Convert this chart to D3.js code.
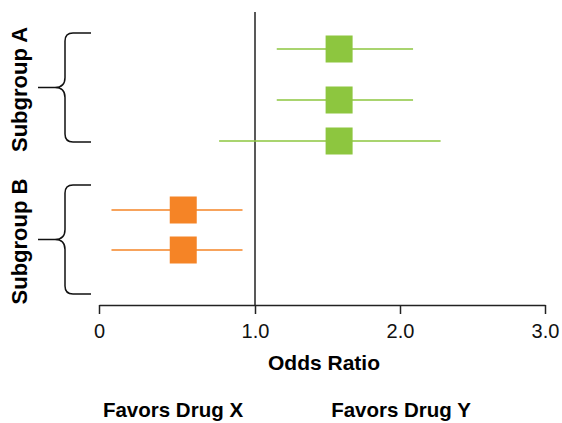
<!DOCTYPE html>
<html>
<head>
<meta charset="utf-8">
<script src="https://cdn.jsdelivr.net/npm/d3@7"></script>
<style>
  body { margin: 0; background: #fff; }
  svg text { font-family: "Liberation Sans", Arial, Helvetica, sans-serif; }
</style>
</head>
<body>
<div id="chart"></div>
<script>
// data
var rows = ["A1", "A2", "A3", "B1", "B2"];
var groups = ["A", "A", "A", "B", "B"];
var oddsRatio = [1.58, 1.58, 1.58, 0.54, 0.54];
var lower = [1.15, 1.15, 0.77, 0.08, 0.08];
var upper = [2.09, 2.09, 2.28, 0.92, 0.92];
var subgroups = ["A", "B"];
var subgroupLabels = ["Subgroup A", "Subgroup B"];
var tickValues = [0, 1, 2, 3];
var tickLabels = ["0", "1.0", "2.0", "3.0"];
var favorLabels = ["Favors Drug X", "Favors Drug Y"];

var width = 562, height = 423;
var colors = { A: "#8dc63f", B: "#f58426" };

var svg = d3.select("#chart").append("svg")
  .attr("width", width)
  .attr("height", height);

// x scale (the original axis is not evenly spaced)
var x = d3.scaleLinear().domain([0, 1, 3]).range([99, 255, 545]);
// row positions
var y = d3.scaleOrdinal().domain(rows).range([49, 100, 141, 210, 250]);
// brace spans for each subgroup
var braceTop = d3.scaleOrdinal().domain(subgroups).range([33, 185]);
var braceBottom = d3.scaleOrdinal().domain(subgroups).range([142, 294]);

var axisY = 305;

// axis
var axis = d3.axisBottom(x)
  .tickValues(tickValues)
  .tickFormat(function(d, i) { return tickLabels[i]; })
  .tickSize(9)
  .tickSizeOuter(0)
  .tickPadding(10);

var gx = svg.append("g")
  .attr("transform", "translate(0," + axisY + ")")
  .call(axis);
gx.select(".domain").attr("stroke", "#222").attr("stroke-width", 1.5);
gx.selectAll(".tick line").attr("stroke", "#222").attr("stroke-width", 1.5);
gx.selectAll(".tick text")
  .attr("fill", "#111")
  .style("font-size", "20px");

// reference line at 1.0
svg.append("line")
  .attr("x1", x(1)).attr("x2", x(1))
  .attr("y1", 12).attr("y2", axisY)
  .attr("stroke", "#222")
  .attr("stroke-width", 1.5);

// confidence intervals
svg.selectAll("line.ci")
  .data(rows)
  .enter().append("line")
  .attr("class", "ci")
  .attr("x1", function(d, i) { return x(lower[i]); })
  .attr("x2", function(d, i) { return x(upper[i]); })
  .attr("y1", function(d) { return y(d); })
  .attr("y2", function(d) { return y(d); })
  .attr("stroke", function(d, i) { return colors[groups[i]]; })
  .attr("stroke-width", 1.5);

// point estimates
var sq = 27;
svg.selectAll("rect.or")
  .data(rows)
  .enter().append("rect")
  .attr("class", "or")
  .attr("x", function(d, i) { return x(oddsRatio[i]) - sq / 2; })
  .attr("y", function(d) { return y(d) - sq / 2; })
  .attr("width", sq)
  .attr("height", sq)
  .attr("fill", function(d, i) { return colors[groups[i]]; });

// braces
function brace(y0, y1) {
  var ym = (y0 + y1) / 2;
  var xe = 91, xv = 65, xt = 38, r = 8;
  return "M" + xe + "," + y0 +
    " H" + (xv + r) + " Q" + xv + "," + y0 + " " + xv + "," + (y0 + r) +
    " V" + (ym - 10) + " Q" + xv + "," + ym + " " + (xv - 10) + "," + ym +
    " H" + xt +
    " M" + (xv - 10) + "," + ym + " Q" + xv + "," + ym + " " + xv + "," + (ym + 10) +
    " V" + (y1 - r) + " Q" + xv + "," + y1 + " " + (xv + r) + "," + y1 +
    " H" + xe;
}

svg.selectAll("path.brace")
  .data(subgroups)
  .enter().append("path")
  .attr("class", "brace")
  .attr("d", function(d) { return brace(braceTop(d), braceBottom(d)); })
  .attr("fill", "none")
  .attr("stroke", "#111")
  .attr("stroke-width", 1.5);

svg.selectAll("text.group")
  .data(subgroups)
  .enter().append("text")
  .attr("class", "group")
  .attr("transform", function(d) {
    var ym = (braceTop(d) + braceBottom(d)) / 2 + 2;
    return "translate(27," + ym + ") rotate(-90)";
  })
  .attr("text-anchor", "middle")
  .style("font-size", "22px")
  .style("font-weight", "bold")
  .attr("fill", "#000")
  .text(function(d, i) { return subgroupLabels[i]; });

// axis title
svg.append("text")
  .attr("x", 324)
  .attr("y", 370)
  .attr("text-anchor", "middle")
  .style("font-size", "21px")
  .style("font-weight", "bold")
  .attr("fill", "#000")
  .text("Odds Ratio");

// favors labels
svg.selectAll("text.favor")
  .data(favorLabels)
  .enter().append("text")
  .attr("class", "favor")
  .attr("x", function(d, i) { return [173, 401][i]; })
  .attr("y", 417)
  .attr("text-anchor", "middle")
  .style("font-size", "20.5px")
  .style("font-weight", "bold")
  .attr("fill", "#000")
  .text(function(d) { return d; });
</script>
</body>
</html>
